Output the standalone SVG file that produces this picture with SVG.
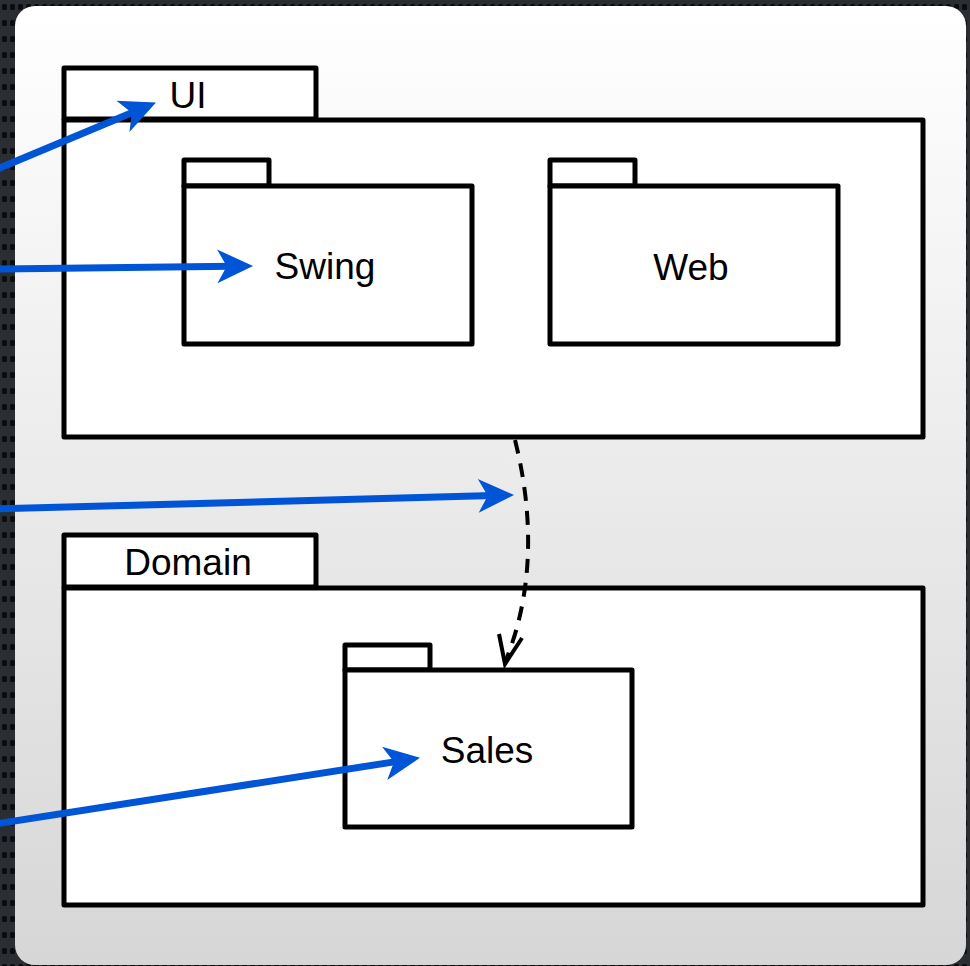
<svg xmlns="http://www.w3.org/2000/svg" width="970" height="966" viewBox="0 0 970 966">
  <defs>
    <pattern id="dots" width="8" height="16" patternUnits="userSpaceOnUse">
      <rect width="8" height="16" fill="#2a2d32"/>
      <rect x="2" y="4" width="5" height="6" rx="1.5" fill="#0b0c0e"/>
    </pattern>
    <linearGradient id="panelFill" x1="0" y1="0" x2="0" y2="1">
      <stop offset="0" stop-color="#ffffff"/>
      <stop offset="1" stop-color="#d6d6d6"/>
    </linearGradient>
    <!-- notched arrowhead; the shaft ends 20px behind the tip -->
    <marker id="blueHead" markerUnits="userSpaceOnUse" markerWidth="40" markerHeight="40" viewBox="-36 -18 38 36" refX="-20" refY="0" orient="auto">
      <path d="M0,0 L-34,-16 L-25,0 L-34,16 Z" fill="#0055d6"/>
    </marker>
    <style>
      .pkg { fill: #ffffff; stroke: #000000; stroke-width: 5; stroke-linejoin: round; }
      .label { font-family: "Liberation Sans", Arial, sans-serif; font-size: 37px; fill: #000000; text-anchor: middle; }
      .pointer { fill: none; stroke: #0055d6; stroke-width: 7; marker-end: url(#blueHead); }
      .dep { fill: none; stroke: #000000; stroke-width: 4; stroke-dasharray: 14 10; }
      .depHead { fill: none; stroke: #000000; stroke-width: 4; stroke-linejoin: miter; }
    </style>
  </defs>

  <!-- backdrop and panel -->
  <rect width="970" height="966" fill="url(#dots)"/>
  <rect x="15" y="6" width="951" height="959" rx="20" fill="url(#panelFill)"/>

  <!-- UI package -->
  <g id="pkg-ui">
    <rect class="pkg" x="64" y="68" width="252" height="51"/>
    <rect class="pkg" x="64" y="120" width="859" height="317"/>
    <text class="label" x="188" y="108">UI</text>
  </g>

  <g id="pkg-swing">
    <rect class="pkg" x="184" y="160" width="85" height="26"/>
    <rect class="pkg" x="184" y="186" width="288" height="158"/>
    <text class="label" x="325" y="279">Swing</text>
  </g>

  <g id="pkg-web">
    <rect class="pkg" x="550" y="160" width="85" height="26"/>
    <rect class="pkg" x="550" y="186" width="288" height="158"/>
    <text class="label" x="691" y="280">Web</text>
  </g>

  <!-- Domain package -->
  <g id="pkg-domain">
    <rect class="pkg" x="64" y="535" width="252" height="52"/>
    <rect class="pkg" x="64" y="588" width="859" height="317"/>
    <text class="label" x="188" y="575">Domain</text>
  </g>

  <g id="pkg-sales">
    <rect class="pkg" x="345" y="645" width="85" height="25"/>
    <rect class="pkg" x="345" y="670" width="287" height="157"/>
    <text class="label" x="487" y="763">Sales</text>
  </g>

  <!-- connectors -->
  <g id="connectors">
    <path class="dep" d="M515,440 C530,500 538,580 506,660"/>
    <path class="depHead" d="M499,634 L505,664 L522,638"/>
    <line class="pointer" x1="-5" y1="170" x2="136.6" y2="110.7"/>
    <line class="pointer" x1="-5" y1="269" x2="232" y2="266.2"/>
    <line class="pointer" x1="-5" y1="509" x2="493" y2="495.5"/>
    <line class="pointer" x1="-5" y1="824" x2="399.2" y2="761.1"/>
  </g>
</svg>
